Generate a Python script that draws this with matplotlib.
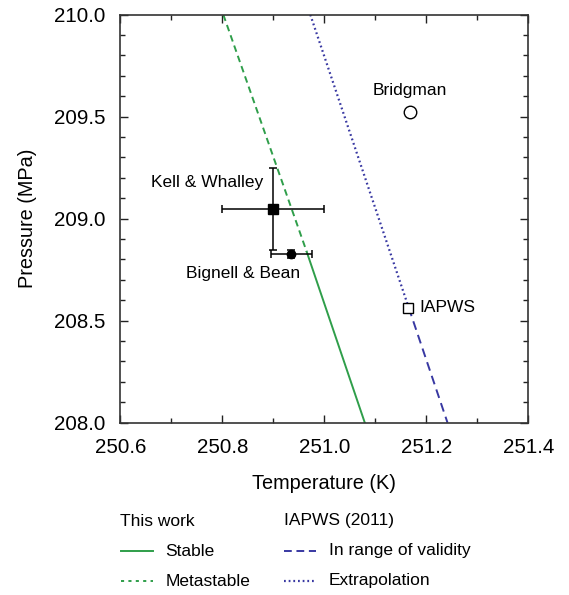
import matplotlib
matplotlib.use("Agg")
import matplotlib.pyplot as plt
from matplotlib.lines import Line2D
from matplotlib.ticker import MultipleLocator

plt.rcParams['font.family'] = ['Liberation Sans', 'DejaVu Sans']

# ---- data ----
meta_T = [250.802, 250.9655]
meta_P = [210.0, 208.838]
stable_T = [250.9655, 251.0794]
stable_P = [208.838, 208.0]

extrap_T = [250.9726, 251.1655]
extrap_P = [210.0, 208.564]
valid_T = [251.1655, 251.2416]
valid_P = [208.564, 208.0]

kw_T, kw_P, kw_dT, kw_dP = 250.900, 209.049, 0.10, 0.20
bb_T, bb_P, bb_dT, bb_dP = 250.935, 208.827, 0.04, 0.022
bridg_T, bridg_P = 251.168, 209.525
iapws_T, iapws_P = 251.1647, 208.564

xticks = [250.6, 250.8, 251.0, 251.2, 251.4]
yticks = [208.0, 208.5, 209.0, 209.5, 210.0]

GREEN = '#2f9e4a'
BLUE = '#3838a2'

fig = plt.figure(figsize=(5.69, 5.95), dpi=100)
ax = fig.add_axes([120.3/569, 172.3/595, 408/569, 408/595])

lw = 1.4
ax.plot(meta_T, meta_P, color=GREEN, lw=lw, linestyle=(0, (3.4, 2.2)))
ax.plot(stable_T, stable_P, color=GREEN, lw=lw, linestyle='-')
ax.plot(extrap_T, extrap_P, color=BLUE, lw=1.6, linestyle=(0, (0.8, 1.3)))
ax.plot(valid_T, valid_P, color=BLUE, lw=lw, linestyle=(0, (4.6, 2.8)))

ax.errorbar([kw_T], [kw_P], xerr=[kw_dT], yerr=[kw_dP], fmt='s', color='black',
            ms=7.7, elinewidth=1.1, capsize=3, capthick=1.1, zorder=5)
ax.errorbar([bb_T], [bb_P], xerr=[bb_dT], yerr=[bb_dP], fmt='o', color='black',
            ms=6.0, elinewidth=1.1, capsize=3, capthick=1.1, zorder=5)
ax.plot([bridg_T], [bridg_P], 'o', mfc='white', mec='black', ms=9, mew=1.0, zorder=5)
ax.plot([iapws_T], [iapws_P], 's', mfc='white', mec='black', ms=7.2, mew=1.0, zorder=5)

fs_ann = 12.5
ax.text(bridg_T, 209.626, 'Bridgman', ha='center', va='center', fontsize=fs_ann)
ax.text(250.7706, 209.176, 'Kell & Whalley', ha='center', va='center', fontsize=fs_ann)
ax.text(250.840, 208.729, 'Bignell & Bean', ha='center', va='center', fontsize=fs_ann)
ax.text(251.1863, 208.564, 'IAPWS', ha='left', va='center', fontsize=fs_ann)

ax.set_xlim(250.6, 251.4)
ax.set_ylim(208.0, 210.0)
ax.set_xticks(xticks)
ax.set_yticks(yticks)
ax.set_xticklabels([f'{v:.1f}' for v in xticks])
ax.set_yticklabels([f'{v:.1f}' for v in yticks])
ax.xaxis.set_minor_locator(MultipleLocator(0.1))
ax.yaxis.set_minor_locator(MultipleLocator(0.1))
ax.tick_params(which='both', direction='in', top=True, right=True, width=1.0, color='#222222')
ax.tick_params(which='major', length=5.5, labelsize=14.8)
ax.tick_params(which='minor', length=3.3)
ax.tick_params(axis='x', which='major', pad=11)
ax.tick_params(axis='y', which='major', pad=11)
for s in ax.spines.values():
    s.set_linewidth(1.2)
    s.set_color('#333333')

ax.set_xlabel('Temperature (K)', fontsize=14.3, labelpad=12)
ax.set_ylabel('Pressure (MPa)', fontsize=14.3, labelpad=12)

# ---- legend (figure coordinates in pixels) ----
W, H = 569, 595
def fx(x): return x / W
def fy(y): return 1 - y / H

fs_leg = 12.5
fig.text(fx(120.3), fy(521), 'This work', fontsize=fs_leg, ha='left', va='center')
fig.text(fx(283.5), fy(521), 'IAPWS (2011)', fontsize=fs_leg, ha='left', va='center')
legend_items = [
    (120.5, 152.5, 551, GREEN, '-', lw, 'Stable'),
    (120.5, 152.5, 581, GREEN, (0, (1.6, 2.2)), lw, 'Metastable'),
    (284.2, 315.8, 551, BLUE, (0, (4.0, 2.4)), lw, 'In range of validity'),
    (284.2, 315.8, 581, BLUE, (0, (0.8, 1.3)), 1.6, 'Extrapolation'),
]
for x0, x1, y, c, ls, w, lab in legend_items:
    fig.add_artist(Line2D([fx(x0), fx(x1)], [fy(y), fy(y)], color=c, lw=w,
                          linestyle=ls, transform=fig.transFigure))
    fig.text(fx(x1 + 13), fy(y), lab, fontsize=fs_leg, ha='left', va='center')

fig.savefig('out.png', dpi=100)
